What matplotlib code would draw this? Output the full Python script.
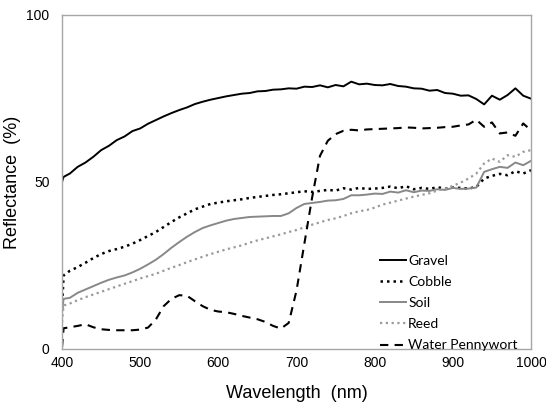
import numpy as np
import matplotlib
matplotlib.use("Agg")
import matplotlib.pyplot as plt

# wavelength samples (nm)
wl = np.r_[400, 402, np.arange(410, 1001, 10)]

gravel = [50.0, 51.5, 52.5, 54.5, 55.8, 57.5, 59.5, 60.8, 62.5, 63.6, 65.2, 66.0,
          67.4, 68.5, 69.6, 70.6, 71.5, 72.3, 73.3, 74.0, 74.6, 75.1, 75.6, 76.0,
          76.4, 76.6, 77.1, 77.2, 77.6, 77.7, 78.0, 77.9, 78.5, 78.4, 78.9, 78.3,
          79.0, 78.6, 80.0, 79.2, 79.4, 79.0, 78.9, 79.3, 78.7, 78.5, 78.0, 77.9,
          77.3, 77.5, 76.6, 76.4, 75.8, 75.9, 74.8, 73.2, 75.8, 74.6, 76.0, 78.0,
          75.8, 74.9]
cobble = [12.0, 22.0, 23.4, 24.5, 25.8, 27.2, 28.4, 29.3, 29.9, 30.6, 31.5, 32.6,
          33.8, 35.0, 36.5, 38.0, 39.4, 40.6, 41.8, 42.6, 43.4, 43.8, 44.2, 44.5,
          44.8, 45.2, 45.5, 45.8, 46.1, 46.3, 46.6, 46.9, 47.2, 47.0, 47.3, 47.6,
          47.4, 48.1, 47.7, 48.2, 47.9, 48.0, 48.2, 48.6, 48.1, 48.7, 47.8, 48.2,
          47.9, 48.4, 48.0, 48.3, 48.2, 48.0, 48.5, 51.0, 51.8, 52.4, 52.0, 53.2,
          52.5, 53.5]
soil = [11.0, 15.0, 15.3, 16.8, 17.8, 18.8, 19.8, 20.7, 21.4, 22.0, 22.9, 24.0,
        25.3, 26.7, 28.4, 30.3, 32.0, 33.6, 35.0, 36.2, 37.0, 37.7, 38.4, 38.9,
        39.2, 39.5, 39.6, 39.7, 39.8, 39.8, 40.6, 42.2, 43.4, 43.7, 44.0, 44.4,
        44.5, 44.9, 46.0, 46.0, 46.2, 46.5, 46.4, 47.1, 46.8, 47.5, 46.9, 47.4,
        47.3, 47.8, 47.6, 48.2, 47.9, 48.0, 48.3, 53.0, 53.8, 54.5, 54.2, 55.8,
        55.0, 56.3]
reed = [8.0, 13.0, 13.6, 14.6, 15.5, 16.3, 17.1, 17.9, 18.7, 19.5, 20.3, 21.1,
        21.8, 22.5, 23.4, 24.3, 25.1, 26.0, 26.8, 27.6, 28.4, 29.1, 29.8, 30.4,
        31.0, 31.8, 32.5, 33.1, 33.7, 34.3, 35.0, 35.6, 36.4, 37.2, 37.9, 38.6,
        39.1, 39.8, 40.6, 41.2, 41.6, 42.3, 43.2, 43.8, 44.4, 45.0, 45.6, 46.1,
        46.6, 47.4, 48.0, 48.8, 49.8, 51.0, 52.5, 55.5, 57.0, 56.0, 58.0, 57.5,
        59.0, 59.5]
pennywort = [0.5, 6.2, 6.5, 6.9, 7.4, 6.5, 5.9, 5.7, 5.6, 5.6, 5.6, 5.8,
             6.4, 8.8, 12.8, 15.0, 16.1, 15.9, 14.3, 12.8, 11.7, 11.2, 11.0, 10.5,
             9.9, 9.4, 8.9, 8.1, 6.9, 6.1, 7.8, 17.5, 31.5, 45.4, 57.8, 62.3,
             64.3, 65.3, 65.6, 65.4, 65.7, 65.8, 65.9, 66.0, 66.1, 66.3, 66.2, 66.0,
             66.1, 66.2, 66.4, 66.5, 66.9, 67.2, 68.6, 66.5, 67.8, 64.5, 64.8, 63.8,
             67.5, 65.4]

fig = plt.figure(figsize=(5.46, 4.12), dpi=100)
ax = fig.add_axes([0.1136, 0.153, 0.859, 0.811])

ax.plot(wl, gravel, color="black", lw=1.4, label="Gravel")
ax.plot(wl, cobble, color="black", lw=1.8, ls=(0, (1, 1.6)), label="Cobble")
ax.plot(wl, soil, color="#888888", lw=1.4, label="Soil")
ax.plot(wl, reed, color="#9a9a9a", lw=1.6, ls=(0, (1, 1.6)), label="Reed")
ax.plot(wl, pennywort, color="black", lw=1.5, ls=(0, (4, 3)), label="Water Pennywort")

ax.set_xlim(400, 1000)
ax.set_ylim(0, 100)
ax.set_xticks(range(400, 1001, 100))
ax.set_yticks([0, 50, 100])
ax.tick_params(length=0, labelsize=10)
ax.tick_params(axis="x", pad=5)
ax.tick_params(axis="y", pad=9)
for lbl in ax.get_xticklabels() + ax.get_yticklabels():
    lbl.set_family("Liberation Sans")
for s in ax.spines.values():
    s.set_color("#a6a6a6")
    s.set_linewidth(1.0)

ax.set_xlabel("Wavelength  (nm)", fontsize=13, family="Liberation Sans", labelpad=11)
ax.set_ylabel("Reflectance  (%)", fontsize=13, family="Liberation Sans", labelpad=4)

ax.legend(loc="lower right", bbox_to_anchor=(0.998, -0.045), frameon=False,
          prop={"family": "Lato", "size": 10}, handlelength=1.9,
          handletextpad=0.15, labelspacing=0.66)

fig.savefig("out.png", dpi=100)
